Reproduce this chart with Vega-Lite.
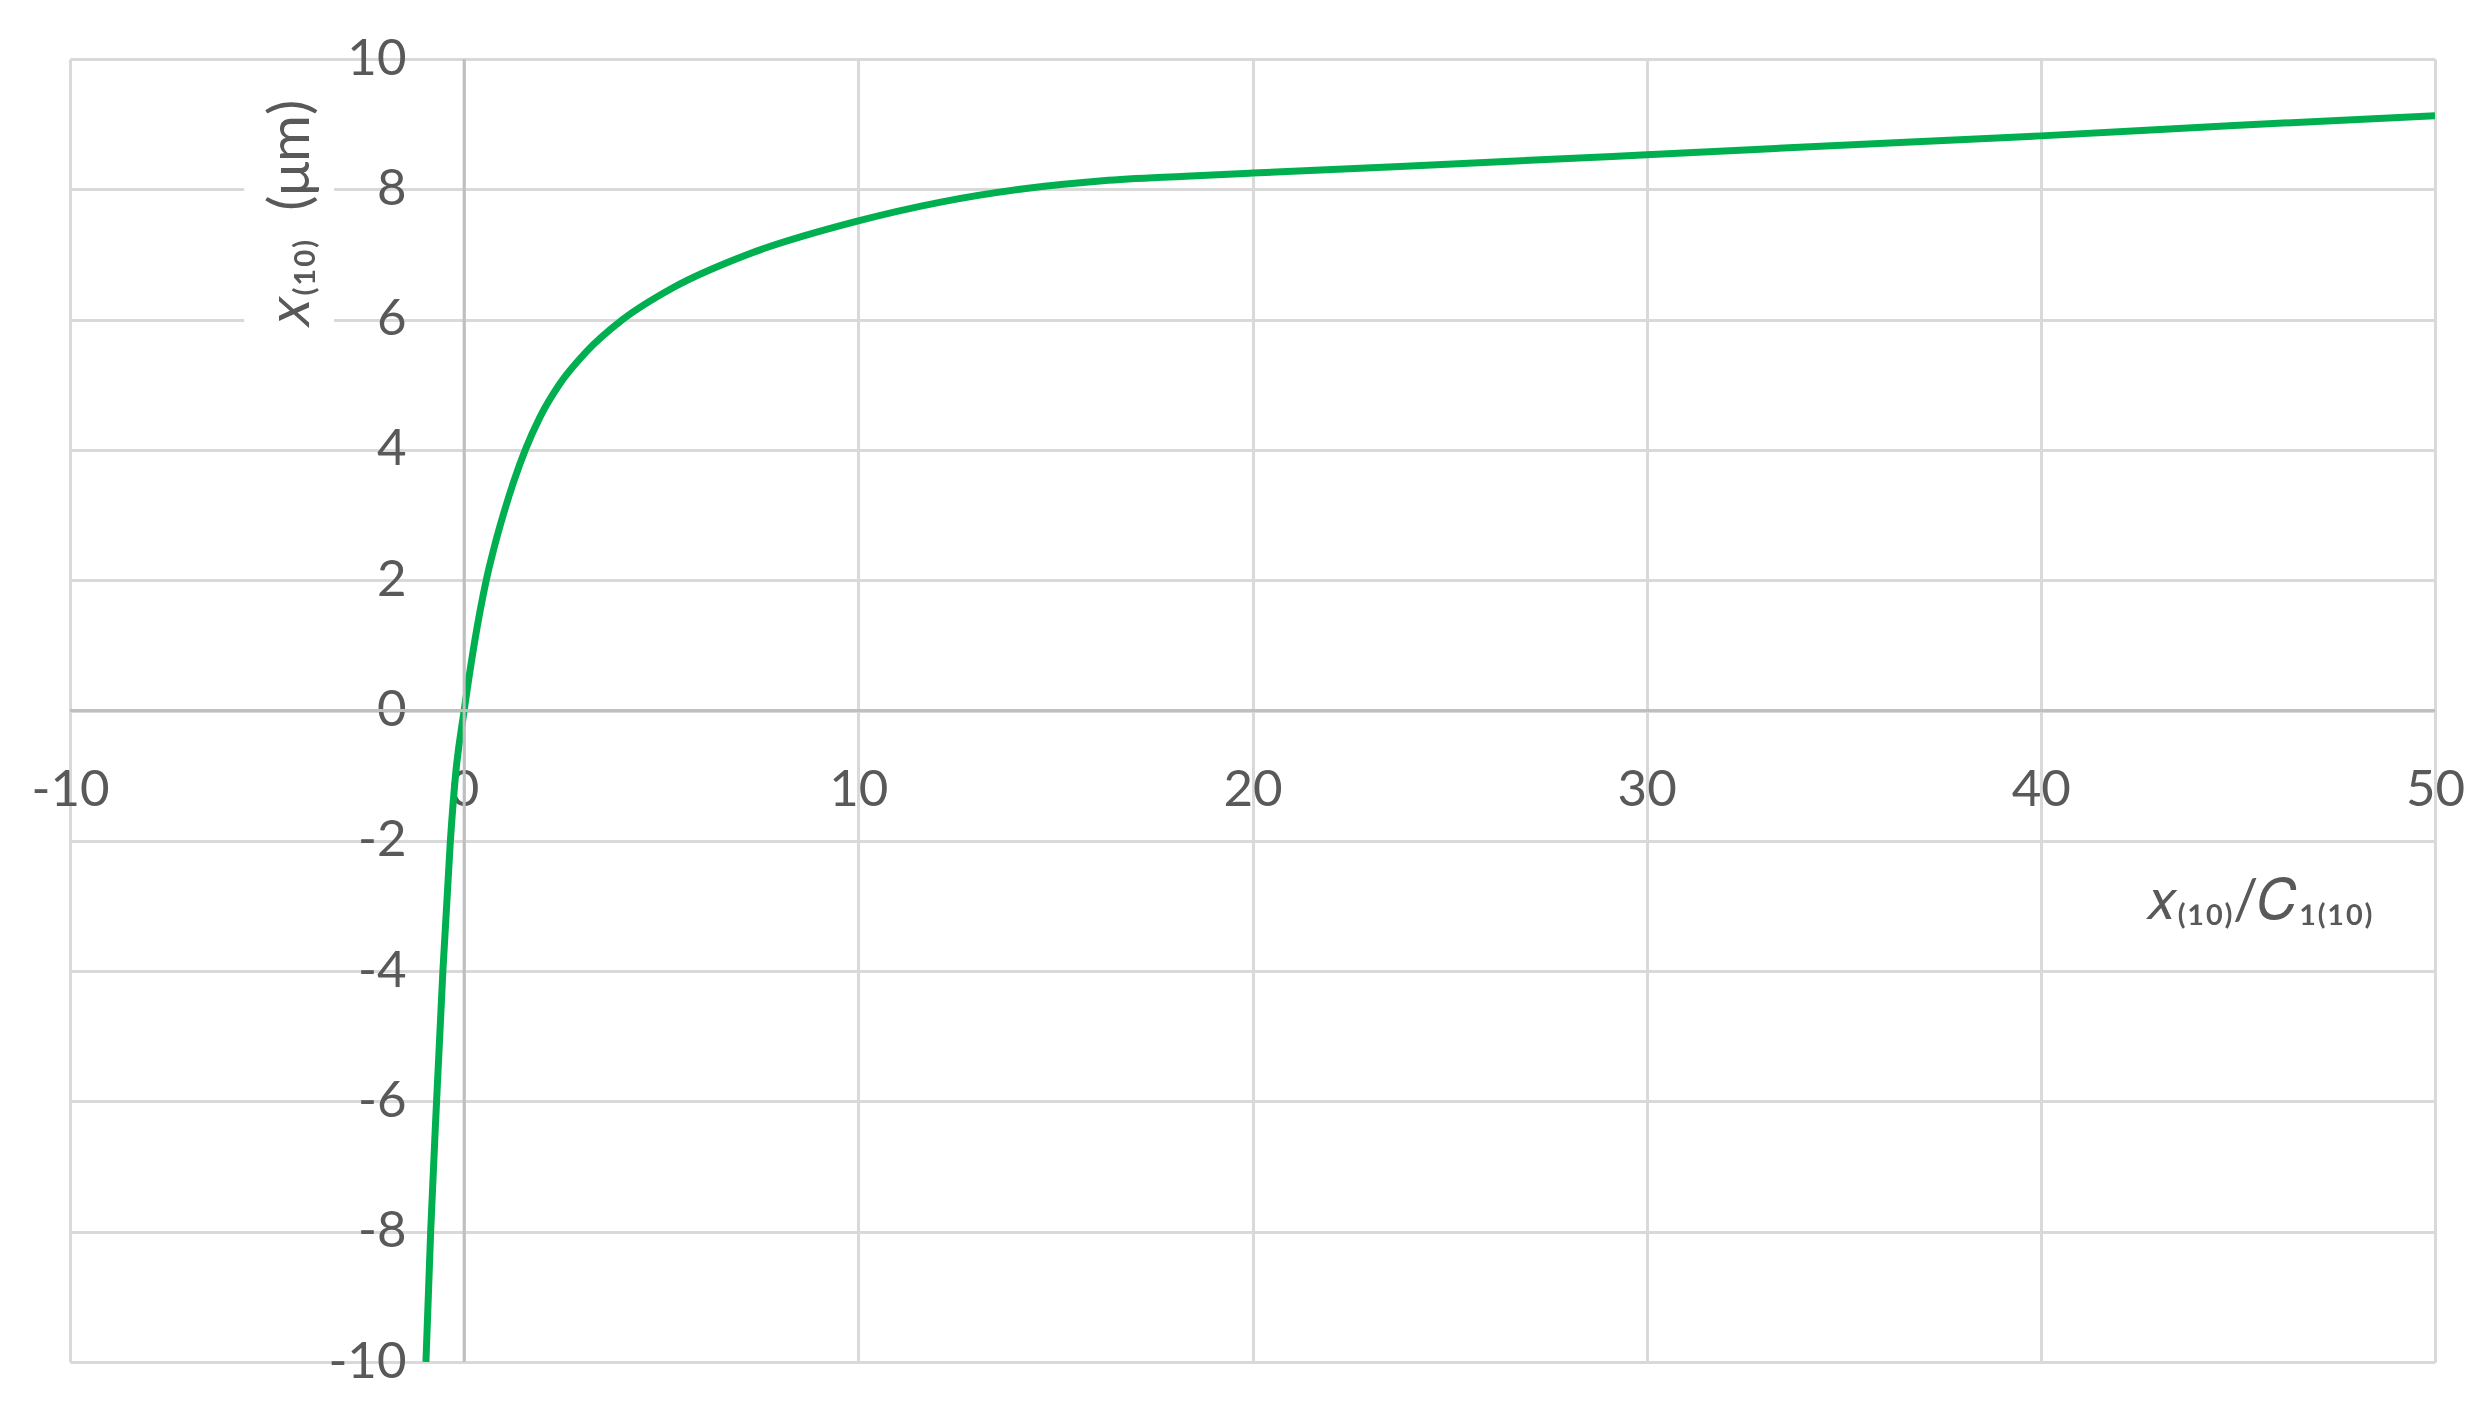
{
  "$schema": "https://vega.github.io/schema/vega-lite/v6.json",
  "width": 2365,
  "height": 1303,
  "autosize": {"type": "none"},
  "padding": {"left": 70, "top": 59, "right": 49, "bottom": 57},
  "background": "white",
  "config": {"view": {"stroke": null}, "font": "Lato"},
  "data": {
    "values": [
      {"t": -0.97, "v": -10},
      {"t": -0.85, "v": -8},
      {"t": -0.70, "v": -6},
      {"t": -0.54, "v": -4},
      {"t": -0.35, "v": -2},
      {"t": -0.22, "v": -1},
      {"t": 0.0, "v": 0},
      {"t": 0.25, "v": 1},
      {"t": 0.56, "v": 2},
      {"t": 0.76, "v": 2.5},
      {"t": 0.99, "v": 3.0},
      {"t": 1.25, "v": 3.5},
      {"t": 1.55, "v": 4.0},
      {"t": 1.92, "v": 4.5},
      {"t": 2.41, "v": 5.0},
      {"t": 3.09, "v": 5.5},
      {"t": 4.02, "v": 6.0},
      {"t": 5.33, "v": 6.5},
      {"t": 7.19, "v": 7.0},
      {"t": 9.9, "v": 7.5},
      {"t": 12.06, "v": 7.8},
      {"t": 14.1, "v": 8.0},
      {"t": 16.2, "v": 8.13},
      {"t": 18.3, "v": 8.2},
      {"t": 20.0, "v": 8.25},
      {"t": 23.74, "v": 8.35},
      {"t": 30.0, "v": 8.53},
      {"t": 36.43, "v": 8.72},
      {"t": 40.0, "v": 8.82},
      {"t": 44.9, "v": 8.98},
      {"t": 50.0, "v": 9.13}
    ]
  },
  "layer": [
    {
      "mark": {"type": "line", "color": "#00b050", "strokeWidth": 7, "interpolate": "monotone", "clip": true},
      "encoding": {
        "x": {
          "field": "t",
          "type": "quantitative",
          "scale": {"domain": [-10, 50], "nice": false, "zero": false},
          "axis": {
            "values": [-10, 0, 10, 20, 30, 40, 50],
            "labelExpr": "'' + datum.value",
            "grid": true,
            "gridColor": "#d9d9d9",
            "gridWidth": 3,
            "domain": false,
            "ticks": false,
            "tickSize": 0,
            "labelPadding": -597,
            "labelFlush": false,
            "labelOverlap": false,
            "labelBound": false,
            "labelFont": "Lato",
            "labelFontSize": 51,
            "labelColor": "#595959",
            "title": "𝑥₍₁₀₎/𝐶₁₍₁₀₎",
            "titleX": 2189,
            "titleY": -444,
            "titleAlign": "center",
            "titleBaseline": "alphabetic",
            "titleAngle": 0,
            "titleFont": "Lato",
            "titleFontSize": 56,
            "titleFontWeight": "normal",
            "titleColor": "#595959"
          }
        },
        "y": {
          "field": "v",
          "type": "quantitative",
          "scale": {"domain": [-10, 10], "nice": false, "zero": false},
          "axis": {
            "values": [-10, -8, -6, -4, -2, 0, 2, 4, 6, 8, 10],
            "labelExpr": "'' + datum.value",
            "grid": true,
            "gridColor": "#d9d9d9",
            "gridWidth": 3,
            "domain": false,
            "ticks": false,
            "tickSize": 0,
            "labelPadding": -336,
            "labelFlush": false,
            "labelOverlap": false,
            "labelBound": false,
            "labelFont": "Lato",
            "labelFontSize": 51,
            "labelColor": "#595959",
            "title": null
          }
        }
      }
    },
    {
      "data": {"values": [{"zero": 0}]},
      "mark": {"type": "rule", "color": "#bfbfbf", "strokeWidth": 3},
      "encoding": {"y": {"field": "zero", "type": "quantitative"}}
    },
    {
      "data": {"values": [{"zero": 0}]},
      "mark": {"type": "rule", "color": "#bfbfbf", "strokeWidth": 3},
      "encoding": {"x": {"field": "zero", "type": "quantitative"}}
    },
    {
      "data": {"values": [{"x0": -5.58, "x1": -3.3, "y0": 5.75, "y1": 9.45}]},
      "mark": {"type": "rect", "color": "white"},
      "encoding": {
        "x": {"field": "x0", "type": "quantitative"},
        "x2": {"field": "x1"},
        "y": {"field": "y0", "type": "quantitative"},
        "y2": {"field": "y1"}
      }
    },
    {
      "data": {"values": [{"tx": -4.36, "ty": 7.62, "label": "𝑥₍₁₀₎\u2002(μm)"}]},
      "mark": {"type": "text", "angle": 270, "font": "Lato", "fontSize": 57, "color": "#595959", "align": "center", "baseline": "middle"},
      "encoding": {
        "x": {"field": "tx", "type": "quantitative"},
        "y": {"field": "ty", "type": "quantitative"},
        "text": {"field": "label"}
      }
    }
  ]
}
